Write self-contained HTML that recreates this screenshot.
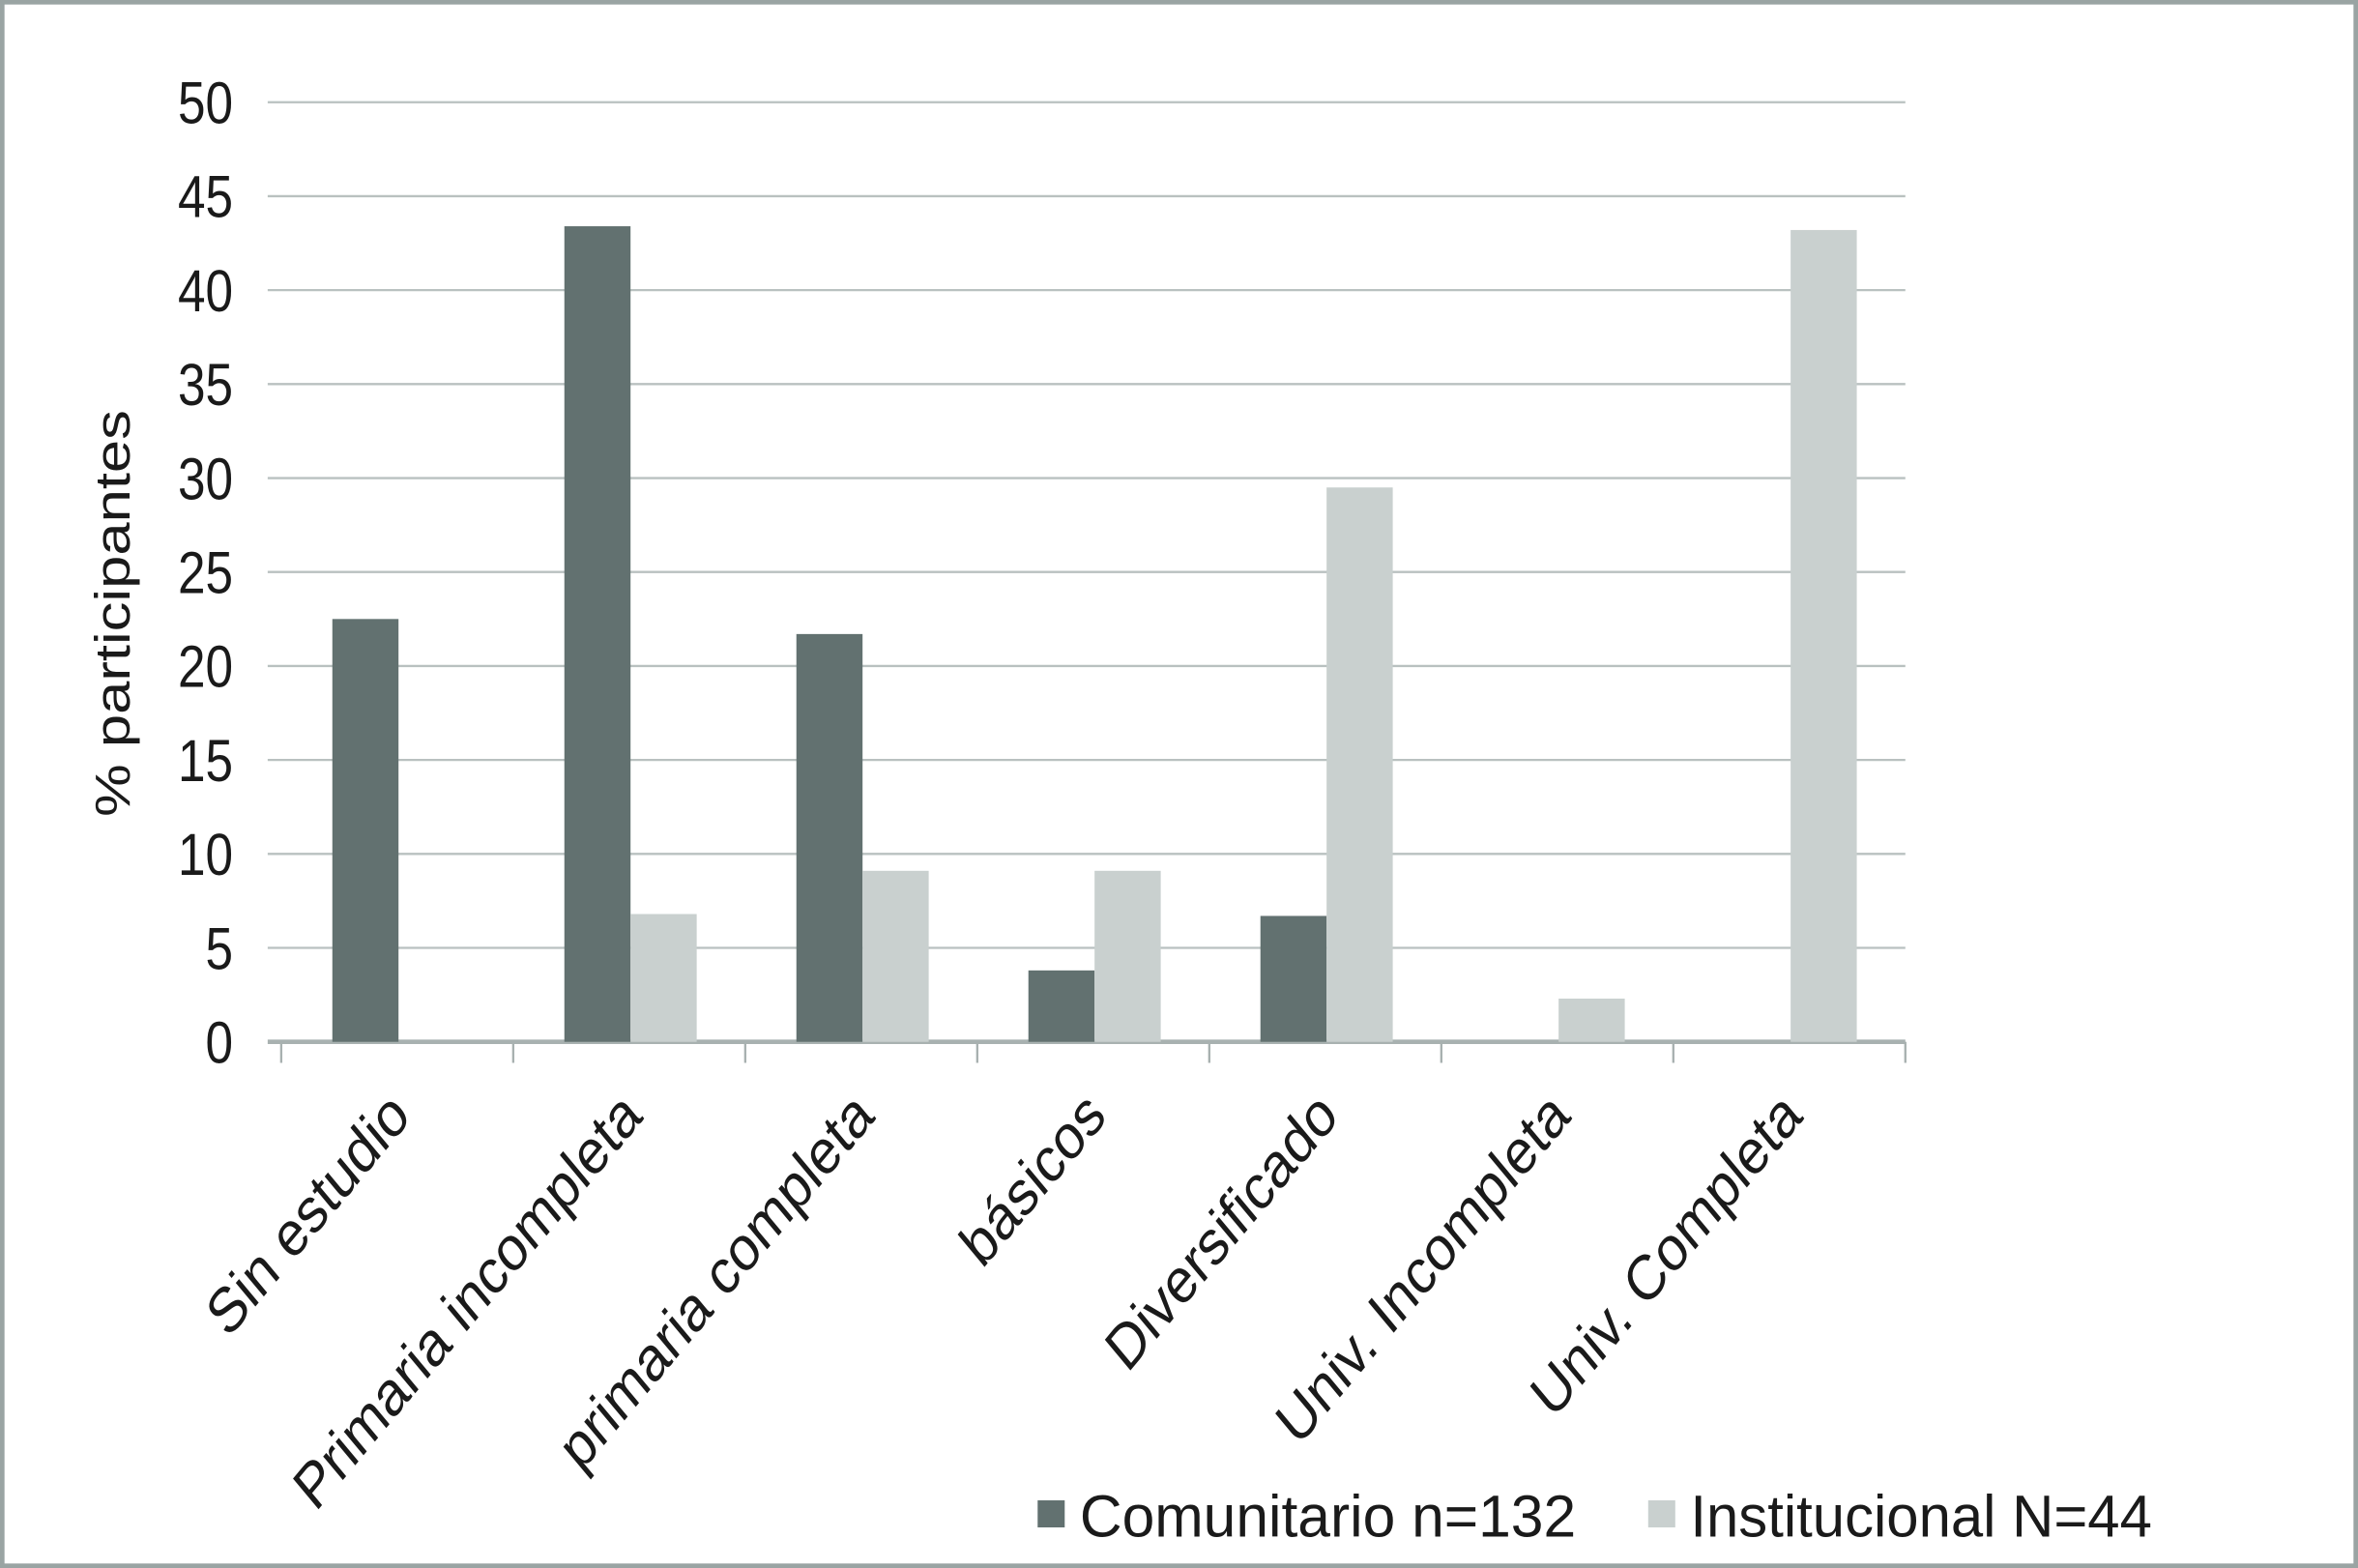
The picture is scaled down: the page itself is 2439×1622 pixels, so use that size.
<!DOCTYPE html>
<html><head><meta charset="utf-8"><style>
html,body{margin:0;padding:0;background:#fff}
svg{display:block}
text{font-family:"Liberation Sans",sans-serif;fill:#1a1a1a}
</style></head><body>
<svg id="chart" width="2439" height="1622" viewBox="0 0 1568 1043" preserveAspectRatio="none" xmlns="http://www.w3.org/2000/svg">
<rect x="1.5" y="1.5" width="1565" height="1040" fill="#fff" stroke="#9aa4a3" stroke-width="3"/>
<g id="grid"></g><g id="bars"></g><g id="xlabels"></g>
<text transform="translate(86,408) scale(1,1.2) rotate(-90)" text-anchor="middle" font-size="33">% participantes</text>
<g>
<rect x="690" y="998" width="18" height="18" fill="#627170"/>
<text transform="translate(718,1022) scale(1,1.2)" font-size="33" textLength="330" lengthAdjust="spacingAndGlyphs">Comunitario n=132</text>
<rect x="1096" y="998" width="18" height="18" fill="#c9d0cf"/>
<text transform="translate(1124,1022) scale(1,1.2)" font-size="33" textLength="307" lengthAdjust="spacingAndGlyphs">Institucional N=44</text>
</g>
</svg>
<script>
const categories=["Sin estudio","Primaria incompleta","primaria completa","básicos","Diversificado","Univ. Incompleta","Univ. Completa"];
const comunitario=[22.5,43.4,21.7,3.8,6.7,0,0];
const institucional=[0,6.8,9.1,9.1,29.5,2.3,43.2];
const yTicks=[0,5,10,15,20,25,30,35,40,45,50];
const NS="http://www.w3.org/2000/svg";
const x0=187,x1=1267,y0=693,y1=68,yMax=50;
const cw=(x1-x0)/categories.length;
function y(v){return y0-(v/yMax)*(y0-y1);}
function cx(i){return x0+i*cw;}
function mk(t,a,p){const e=document.createElementNS(NS,t);for(const k in a)e.setAttribute(k,a[k]);p.appendChild(e);return e;}
const g=document.getElementById('grid');
yTicks.forEach(t=>{
 const l=mk('line',{x1:178,x2:x1,y1:y(t),y2:y(t),stroke:t===0?'#a8b1b0':'#b9c1c0','stroke-width':t===0?3:1.5},g);
 
 
 const tx=mk('text',{transform:`translate(155,${y(t)+14}) scale(1,1.2)`,'text-anchor':'end','font-size':33},g);
 tx.textContent=t;
 
 
});
for(let i=0;i<=categories.length;i++){
 const l=mk('line',{x1:cx(i),x2:cx(i),y1:y0,y2:y0+14,stroke:'#a8b1b0','stroke-width':1.5},g);
 
 
}
const b=document.getElementById('bars'),xl=document.getElementById('xlabels');
const bw=44;
categories.forEach((c,i)=>{
 const s=cx(i)+34;
 if(comunitario[i]>0){const r=mk('rect',{x:s,y:y(comunitario[i]),width:bw,height:y0-y(comunitario[i]),fill:'#627170'},b);
 
 }
 if(institucional[i]>0){const r=mk('rect',{x:s+bw,y:y(institucional[i]),width:bw,height:y0-y(institucional[i]),fill:'#c9d0cf'},b);
 
 }
 const t=mk('text',{transform:`translate(${cx(i)+cw/2+10},744) scale(1,1.2) rotate(-45)`,'text-anchor':'end','font-size':35},xl);
 t.textContent=c;
 
 
});
</script>
</body></html>
